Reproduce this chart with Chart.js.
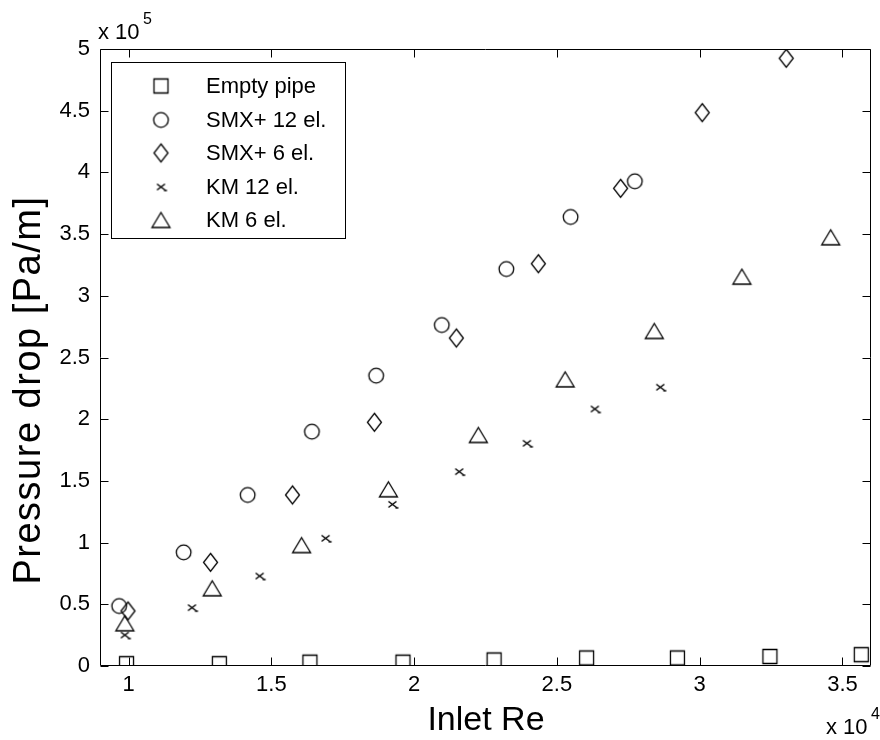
<!DOCTYPE html>
<html>
<head>
<meta charset="utf-8">
<script src="https://cdn.jsdelivr.net/npm/chart.js@4.4.1/dist/chart.umd.min.js"></script>
<style>
  html, body { margin: 0; padding: 0; background: #fff; }
  #wrap { width: 880px; height: 740px; }
</style>
</head>
<body>
<div id="wrap"><canvas id="reChart" width="880" height="740"></canvas></div>
<script>
// values (Re, Pa/m)
const emptyRe   = [9930, 13180, 16350, 19610, 22800, 26040, 29220, 32460, 35660];
const emptyDp   = [1900, 1900, 3100, 3100, 4900, 6500, 6500, 7700, 9200];
const smx12Re   = [9670, 11930, 14170, 16420, 18670, 20970, 23230, 25480, 27730];
const smx12Dp   = [48600, 92100, 138600, 189900, 235300, 276300, 321700, 363900, 392800];
const smx6Re    = [9980, 12870, 15740, 18610, 21480, 24350, 27230, 30090, 33030];
const smx6Dp    = [44600, 84000, 138600, 197500, 265800, 326000, 387100, 448400, 492500];
const km12Re    = [9870, 12220, 14590, 16900, 19240, 21580, 23950, 26330, 28620];
const km12Dp    = [25100, 47300, 72900, 103500, 131000, 157500, 180500, 208300, 225900];
const km6Re     = [9870, 12930, 16060, 19100, 22250, 25290, 28410, 31480, 34590];
const km6Dp     = [34600, 63000, 98000, 143200, 187200, 232300, 271500, 315500, 347400];

const seriesNames = ["Empty pipe", "SMX+ 12 el.", "SMX+ 6 el.", "KM 12 el.", "KM 6 el."];
const xTickValues = [10000, 15000, 20000, 25000, 30000, 35000];
const yTickValues = [0, 50000, 100000, 150000, 200000, 250000, 300000, 350000, 400000, 450000, 500000];

const FONT = "'Liberation Sans', Arial, sans-serif";

// little canvases used as marker shapes (matlab style, open black markers)
function makeMarker(kind) {
    const c = document.createElement("canvas");
    c.width = 25; c.height = 25;
    const g = c.getContext("2d");
    const m = 12.5;
    g.strokeStyle = "#000";
    g.lineWidth = 1.3;
    g.beginPath();
    if (kind === "square") {
        g.rect(m - 7, m - 7, 14, 14);
    } else if (kind === "circle") {
        g.arc(m, m, 7.3, 0, Math.PI * 2);
    } else if (kind === "diamond") {
        g.moveTo(m, m - 9); g.lineTo(m + 7, m); g.lineTo(m, m + 9); g.lineTo(m - 7, m); g.closePath();
    } else if (kind === "triangle") {
        g.moveTo(m, m - 7.5); g.lineTo(m + 9, m + 7.5); g.lineTo(m - 9, m + 7.5); g.closePath();
    } else if (kind === "x") {
        g.lineWidth = 1.5;
        g.moveTo(m - 4, m - 3); g.lineTo(m + 4, m + 3);
        g.moveTo(m - 4, m + 3); g.lineTo(m + 4, m - 3);
        g.moveTo(m + 3, m + 3.5); g.lineTo(m + 6, m + 3.5);
    }
    g.stroke();
    return c;
}
const markers = ["square", "circle", "diamond", "triangle", "x"].reduce((o, k) => { o[k] = makeMarker(k); return o; }, {});

function pts(xs, ys) { return xs.map((x, i) => ({ x: x, y: ys[i] })); }

const datasets = [
    { label: seriesNames[0], data: pts(emptyRe, emptyDp), pointStyle: markers.square },
    { label: seriesNames[1], data: pts(smx12Re, smx12Dp), pointStyle: markers.circle },
    { label: seriesNames[2], data: pts(smx6Re, smx6Dp), pointStyle: markers.diamond },
    { label: seriesNames[3], data: pts(km12Re, km12Dp), pointStyle: markers.x },
    { label: seriesNames[4], data: pts(km6Re, km6Dp), pointStyle: markers.triangle }
];

// box, inward ticks, titles, exponent labels and legend
const matlabAxes = {
    id: "matlabAxes",
    afterDraw(chart) {
        const ctx = chart.ctx;
        const a = chart.chartArea;
        const xs = chart.scales.x, ys = chart.scales.y;
        const L = Math.round(a.left) + 0.5, R = Math.round(a.right) - 0.5;
        const T = Math.round(a.top) + 0.5, B = Math.round(a.bottom) - 0.5;
        ctx.save();
        ctx.strokeStyle = "#000";
        ctx.lineWidth = 1;
        ctx.beginPath();
        ctx.rect(L, T, R - L, B - T);
        xTickValues.forEach(v => {
            const px = Math.round(xs.getPixelForValue(v)) + 0.5;
            ctx.moveTo(px, B); ctx.lineTo(px, B - 8);
            ctx.moveTo(px, T); ctx.lineTo(px, T + 8);
        });
        yTickValues.forEach(v => {
            const py = Math.round(ys.getPixelForValue(v)) + 0.5;
            ctx.moveTo(L, py); ctx.lineTo(L + 8, py);
            ctx.moveTo(R, py); ctx.lineTo(R - 8, py);
        });
        ctx.stroke();

        ctx.fillStyle = "#000";
        // axis titles
        ctx.font = "34px " + FONT;
        ctx.textAlign = "center";
        ctx.textBaseline = "middle";
        ctx.fillText("Inlet Re", 486, 721);
        ctx.save();
        ctx.translate(30, 390);
        ctx.rotate(-Math.PI / 2);
        ctx.font = "38px " + FONT;
        ctx.letterSpacing = "1.5px";
        ctx.fillText("Pressure drop [Pa/m]", 0, 0);
        ctx.restore();

        // exponent labels
        ctx.textAlign = "left";
        ctx.textBaseline = "alphabetic";
        ctx.font = "22px " + FONT;
        ctx.fillText("x 10", 98, 39);
        ctx.fillText("x 10", 826, 734);
        ctx.font = "16px " + FONT;
        ctx.fillText("5", 143, 24);
        ctx.fillText("4", 871, 719);

        // legend
        ctx.fillStyle = "#fff";
        ctx.fillRect(111.5, 62.5, 234, 176);
        ctx.strokeRect(111.5, 62.5, 234, 176);
        ctx.fillStyle = "#000";
        ctx.font = "22px " + FONT;
        ctx.textBaseline = "middle";
        const rowY = [86, 120, 153, 187, 220];
        chart.data.datasets.forEach((ds, i) => {
            const img = ds.pointStyle;
            ctx.drawImage(img, 161 - img.width / 2, rowY[i] - img.height / 2);
            ctx.fillText(ds.label, 206, rowY[i] + 1);
        });
        ctx.restore();
    }
};

new Chart(document.getElementById("reChart").getContext("2d"), {
    type: "scatter",
    data: { datasets: datasets },
    plugins: [matlabAxes],
    options: {
        responsive: false,
        animation: false,
        devicePixelRatio: 1,
        layout: { padding: { left: 0, top: 49, right: 2, bottom: 0 } },
        elements: { point: { radius: 8, hoverRadius: 8 } },
        plugins: { legend: { display: false }, tooltip: { enabled: false } },
        scales: {
            x: {
                type: "linear",
                min: 9000,
                max: 36000,
                grid: { display: false, drawTicks: false },
                border: { display: false },
                afterBuildTicks: s => { s.ticks = xTickValues.map(v => ({ value: v })); },
                afterFit: s => { s.height = 74; },
                ticks: {
                    color: "#000",
                    padding: 6,
                    maxRotation: 0,
                    font: { family: FONT, size: 22 },
                    callback: v => String(v / 1e4)
                }
            },
            y: {
                type: "linear",
                min: 0,
                max: 500000,
                grid: { display: false, drawTicks: false },
                border: { display: false },
                afterBuildTicks: s => { s.ticks = yTickValues.map(v => ({ value: v })); },
                afterFit: s => { s.width = 100; },
                ticks: {
                    color: "#000",
                    padding: 10,
                    font: { family: FONT, size: 22 },
                    callback: v => String(v / 1e5)
                }
            }
        }
    }
});
</script>
</body>
</html>
